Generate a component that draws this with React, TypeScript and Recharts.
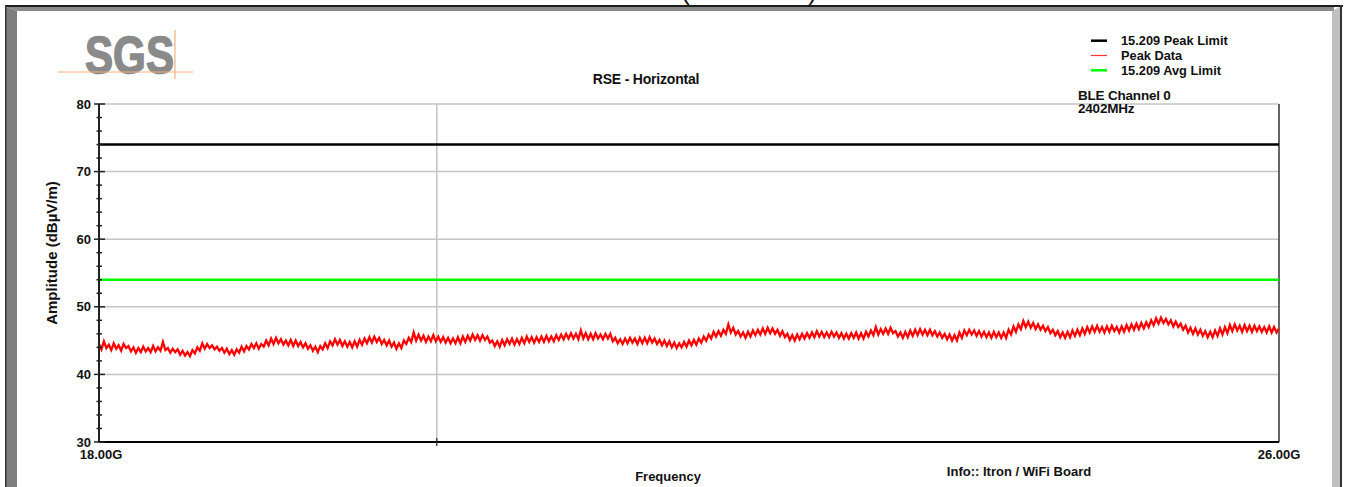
import React from "react";
import { ComposedChart, Line, XAxis, YAxis, ReferenceLine } from "recharts";

// ---- data ----
const START_GHZ = 18;
const STOP_GHZ = 26;

// Peak trace (481 sweep points, 18 -> 26 GHz)
const peakData: number[] = [
  44.5, 43.7, 44.9, 43.9, 44.4, 43.6, 44.6, 43.8, 44.3, 43.5, 44.5, 43.9, 44.2, 43.4, 44.0, 43.2, 43.9, 43.3, 44.1, 43.4,
  43.9, 43.3, 44.2, 43.4, 44.0, 43.5, 44.8, 43.6, 43.9, 43.2, 43.8, 43.3, 43.7, 42.9, 43.5, 42.8, 43.3, 42.7, 43.6, 43.1,
  44.0, 43.5, 44.6, 43.8, 44.5, 43.9, 44.3, 43.7, 44.1, 43.5, 43.9, 43.2, 43.8, 43.0, 43.6, 42.9, 43.7, 43.2, 44.1, 43.4,
  44.2, 43.7, 44.5, 43.9, 44.6, 43.8, 44.5, 44.1, 45.0, 44.3, 45.3, 44.5, 45.4, 44.6, 45.2, 44.4, 45.0, 44.3, 45.1, 44.2,
  45.0, 44.2, 44.8, 44.0, 44.6, 43.8, 44.3, 43.5, 44.1, 43.3, 44.2, 43.7, 44.6, 43.9, 44.9, 44.3, 45.2, 44.4, 45.1, 44.2,
  44.9, 44.1, 44.8, 44.0, 44.9, 44.1, 45.1, 44.4, 45.3, 44.6, 45.5, 44.7, 45.6, 44.8, 45.4, 44.5, 45.1, 44.3, 45.0, 44.1,
  44.7, 43.8, 44.6, 43.9, 45.0, 44.5, 45.4, 44.8, 46.2, 45.0, 45.9, 45.0, 45.7, 44.8, 45.6, 44.9, 45.8, 44.9, 45.6, 44.8,
  45.5, 44.7, 45.4, 44.6, 45.3, 44.6, 45.5, 44.6, 45.6, 44.8, 45.7, 45.0, 45.9, 45.1, 45.8, 45.0, 45.8, 45.1, 45.6, 44.7,
  45.0, 44.2, 44.9, 44.1, 45.1, 44.3, 45.2, 44.5, 45.3, 44.4, 45.2, 44.5, 45.4, 44.6, 45.6, 44.8, 45.5, 44.7, 45.5, 44.8,
  45.6, 44.8, 45.7, 44.9, 45.6, 44.9, 45.8, 45.1, 45.9, 45.2, 46.0, 45.3, 46.1, 45.3, 46.0, 45.2, 46.5, 45.3, 46.1, 45.2,
  46.0, 45.2, 46.1, 45.3, 45.9, 45.2, 46.0, 45.3, 46.0, 44.9, 45.4, 44.6, 45.2, 44.5, 45.3, 44.6, 45.4, 44.7, 45.3, 44.5,
  45.4, 44.6, 45.4, 44.6, 45.5, 44.7, 45.3, 44.5, 45.1, 44.3, 45.0, 44.2, 44.9, 44.0, 44.7, 43.9, 44.6, 44.0, 44.8, 44.1,
  45.0, 44.3, 45.1, 44.4, 45.3, 44.7, 45.6, 45.0, 45.9, 45.3, 46.3, 45.6, 46.4, 45.7, 46.6, 46.0, 47.4, 46.2, 46.9, 45.9,
  46.4, 45.6, 46.2, 45.4, 46.3, 45.6, 46.5, 45.8, 46.6, 45.9, 46.8, 46.0, 46.9, 46.1, 46.8, 46.0, 46.6, 45.7, 46.4, 45.5,
  46.0, 45.1, 45.8, 45.0, 45.9, 45.2, 46.0, 45.3, 46.1, 45.4, 46.2, 45.5, 46.4, 45.6, 46.3, 45.5, 46.2, 45.5, 46.3, 45.6,
  46.2, 45.4, 46.1, 45.3, 46.0, 45.3, 46.1, 45.4, 46.2, 45.3, 46.1, 45.3, 46.3, 45.6, 46.5, 45.8, 47.0, 45.9, 46.7, 46.0,
  46.8, 46.0, 46.9, 46.1, 46.4, 45.6, 46.2, 45.4, 46.3, 45.5, 46.5, 45.7, 46.6, 45.8, 46.7, 45.9, 46.6, 45.8, 46.6, 45.8,
  46.4, 45.6, 46.2, 45.4, 46.0, 45.2, 45.9, 45.0, 45.8, 45.0, 46.2, 45.4, 46.5, 45.8, 46.6, 45.9, 46.5, 45.7, 46.4, 45.6,
  46.3, 45.5, 46.2, 45.4, 46.3, 45.5, 46.2, 45.4, 46.2, 45.4, 46.6, 45.9, 47.1, 46.3, 47.4, 46.7, 47.9, 47.0, 47.8, 46.9,
  47.6, 46.7, 47.4, 46.6, 47.2, 46.4, 47.0, 46.1, 46.6, 45.8, 46.4, 45.5, 46.2, 45.4, 46.3, 45.5, 46.5, 45.7, 46.6, 45.8,
  46.8, 46.0, 47.0, 46.2, 47.1, 46.3, 47.2, 46.3, 47.0, 46.2, 47.1, 46.3, 47.2, 46.4, 47.0, 46.2, 47.1, 46.3, 47.3, 46.5,
  47.4, 46.6, 47.5, 46.7, 47.6, 46.8, 47.7, 47.0, 48.0, 47.3, 48.3, 47.5, 48.4, 47.6, 48.2, 47.4, 48.0, 47.1, 47.8, 47.0,
  47.5, 46.6, 47.2, 46.2, 46.9, 46.0, 46.8, 45.9, 46.6, 45.7, 46.4, 45.5, 46.3, 45.5, 46.5, 45.7, 46.8, 45.9, 47.0, 46.1,
  47.3, 46.4, 47.4, 46.5, 47.2, 46.3, 47.3, 46.4, 47.2, 46.3, 47.2, 46.4, 47.1, 46.3, 47.0, 46.2, 47.1, 46.2, 47.0, 46.2,
  46.8,
];

const peakLimit = 74;
const avgLimit = 54;

const yTicks = [30, 32, 34, 36, 38, 40, 42, 44, 46, 48, 50, 52, 54, 56, 58, 60, 62, 64, 66, 68, 70, 72, 74, 76, 78, 80];
const yGridValues = [40, 50, 60, 70, 80];
const xGridFreq = 20.29;
const xTicks = [18, xGridFreq, 26];
const xLabelTicks = [18, 26];

const legendLabels = ["15.209 Peak Limit", "Peak Data", "15.209 Avg Limit"];
const legendColors = ["#000000", "#ff3333", "#00ff00"];
const legendWidths = [2.5, 1.2, 2.5];

const chartTitle = "RSE - Horizontal";
const cutTitle = "Horizontal (18-26GHz)";
const channelLines = ["BLE Channel 0", "2402MHz"];
const infoText = "Info:: Itron / WiFi Board";
const xAxisLabel = "Frequency";
const yAxisLabel = "Amplitude (dBµV/m)";

const chartData = peakData.map((v, i) => ({
  f: START_GHZ + (i * (STOP_GHZ - START_GHZ)) / (peakData.length - 1),
  peak: v,
}));

const FONT = "'Liberation Sans', Arial, Helvetica, sans-serif";

const YTick = (props: any) => {
  const { x, y, payload } = props;
  const v = payload.value;
  const major = v % 10 === 0;
  return (
    <g>
      <line x1={major ? x - 5 : x - 2.5} x2={major ? x + 6 : x + 3} y1={y} y2={y} stroke="#222" strokeWidth={1.5} />
      {major && (
        <text x={x - 8} y={y} dy={4.5} textAnchor="end" fontSize={13} fontWeight="bold" fill="#111" fontFamily={FONT}>
          {v}
        </text>
      )}
    </g>
  );
};

const XTick = (props: any) => {
  const { x, y, payload } = props;
  const v = payload.value;
  if (xLabelTicks.indexOf(v) >= 0) {
    return (
      <text x={v === 18 ? x + 2 : x} y={y + 17} textAnchor="middle" fontSize={13} fontWeight="bold" fill="#111" fontFamily={FONT}>
        {v.toFixed(2) + "G"}
      </text>
    );
  }
  return <line x1={x} x2={x} y1={y - 4} y2={y + 4} stroke="#222" strokeWidth={1.2} />;
};

export default function App() {
  return (
    <div style={{ position: "absolute", left: 0, top: 0, width: 1346, height: 487, background: "#fff", overflow: "hidden" }}>
      <div style={{ position: "absolute", left: 0, top: 0 }}>
        <ComposedChart width={1346} height={487} data={chartData} margin={{ top: 104, right: 67, bottom: 15, left: 59 }}>
          <XAxis
            dataKey="f"
            type="number"
            domain={[START_GHZ, STOP_GHZ]}
            ticks={xTicks}
            interval={0}
            height={30}
            tickSize={0}
            tickMargin={0}
            tickLine={false}
            axisLine={{ stroke: "#000", strokeWidth: 2 }}
            tick={<XTick />}
            allowDataOverflow
          />
          <YAxis
            type="number"
            domain={[30, 80]}
            ticks={yTicks}
            interval={0}
            width={40}
            tickSize={0}
            tickMargin={0}
            tickLine={false}
            axisLine={{ stroke: "#222", strokeWidth: 2 }}
            tick={<YTick />}
            allowDataOverflow
          />
          {yGridValues.map((g) => (
            <ReferenceLine key={"g" + g} y={g} stroke="#c4c4c4" strokeWidth={1.5} />
          ))}
          <ReferenceLine x={xGridFreq} stroke="#c4c4c4" strokeWidth={1.5} />
          <ReferenceLine x={STOP_GHZ} stroke="#333" strokeWidth={1.5} />
          <ReferenceLine y={peakLimit} stroke="#000" strokeWidth={2.5} />
          <ReferenceLine y={avgLimit} stroke="#00ff00" strokeWidth={2.5} />
          <Line
            type="linear"
            dataKey="peak"
            stroke="#ff0000"
            strokeWidth={2.3}
            dot={false}
            activeDot={false}
            isAnimationActive={false}
          />
        </ComposedChart>
      </div>
      <svg width={1346} height={487} style={{ position: "absolute", left: 0, top: 0, pointerEvents: "none" }}>
        {/* cut-off big title */}
        <text x={687} y={0} textAnchor="middle" fontSize={26} fontFamily={FONT} fill="#111" textLength={260} lengthAdjust="spacingAndGlyphs">
          {cutTitle}
        </text>
        {/* frame */}
        <polygon points="6,7 1334,7 1334,11 17,11" fill="#8a8a8a" />
        <polygon points="6,7 17,11 17,487 6,487" fill="#7e7e7e" />
        <polygon points="1332,11 1340,7 1340,487 1332,487" fill="#c0c0c0" />
        <rect x={5} y={5} width={1338} height={2} fill="#1e1e1e" />
        <rect x={5} y={5} width={1.5} height={482} fill="#333" />
        <rect x={1340} y={5} width={2} height={482} fill="#333" />
        {/* logo */}
        <text x={85} y={73} fontSize={52} fontWeight="bold" fill="#8a8a8a" stroke="#8a8a8a" strokeWidth={1.5} fontFamily={FONT} textLength={89} lengthAdjust="spacingAndGlyphs">
          SGS
        </text>
        <line x1={58} x2={193} y1={72} y2={72} stroke="#f5b07a" strokeWidth={1} />
        <line x1={175} x2={175} y1={30} y2={79} stroke="#f5b07a" strokeWidth={1.2} />
        {/* title */}
        <text x={646} y={84} textAnchor="middle" fontSize={14} fontWeight="bold" fill="#111" fontFamily={FONT} letterSpacing={-0.2}>
          {chartTitle}
        </text>
        {/* legend */}
        {legendLabels.map((lab, i) => (
          <g key={lab}>
            <line x1={1091} x2={1107} y1={40.7 + i * 14.8} y2={40.7 + i * 14.8} stroke={legendColors[i]} strokeWidth={legendWidths[i]} />
            <text x={1121} y={45 + i * 15} fontSize={12.8} fontWeight="bold" fill="#111" fontFamily={FONT}>
              {lab}
            </text>
          </g>
        ))}
        {/* channel note */}
        <text x={1078} y={100} fontSize={13.5} fontWeight="bold" fill="#111" fontFamily={FONT} letterSpacing={-0.2}>
          {channelLines[0]}
        </text>
        <text x={1078} y={113} fontSize={13.5} fontWeight="bold" fill="#111" fontFamily={FONT} letterSpacing={-0.2}>
          {channelLines[1]}
        </text>
        {/* axis titles */}
        <text x={668} y={481} textAnchor="middle" fontSize={13} fontWeight="bold" fill="#111" fontFamily={FONT}>
          {xAxisLabel}
        </text>
        <text x={1019} y={476} textAnchor="middle" fontSize={13} fontWeight="bold" fill="#111" fontFamily={FONT}>
          {infoText}
        </text>
        <text x={57} y={253} textAnchor="middle" fontSize={15} fontWeight="bold" fill="#111" fontFamily={FONT} transform="rotate(-90, 57, 253)">
          {yAxisLabel}
        </text>
      </svg>
    </div>
  );
}
